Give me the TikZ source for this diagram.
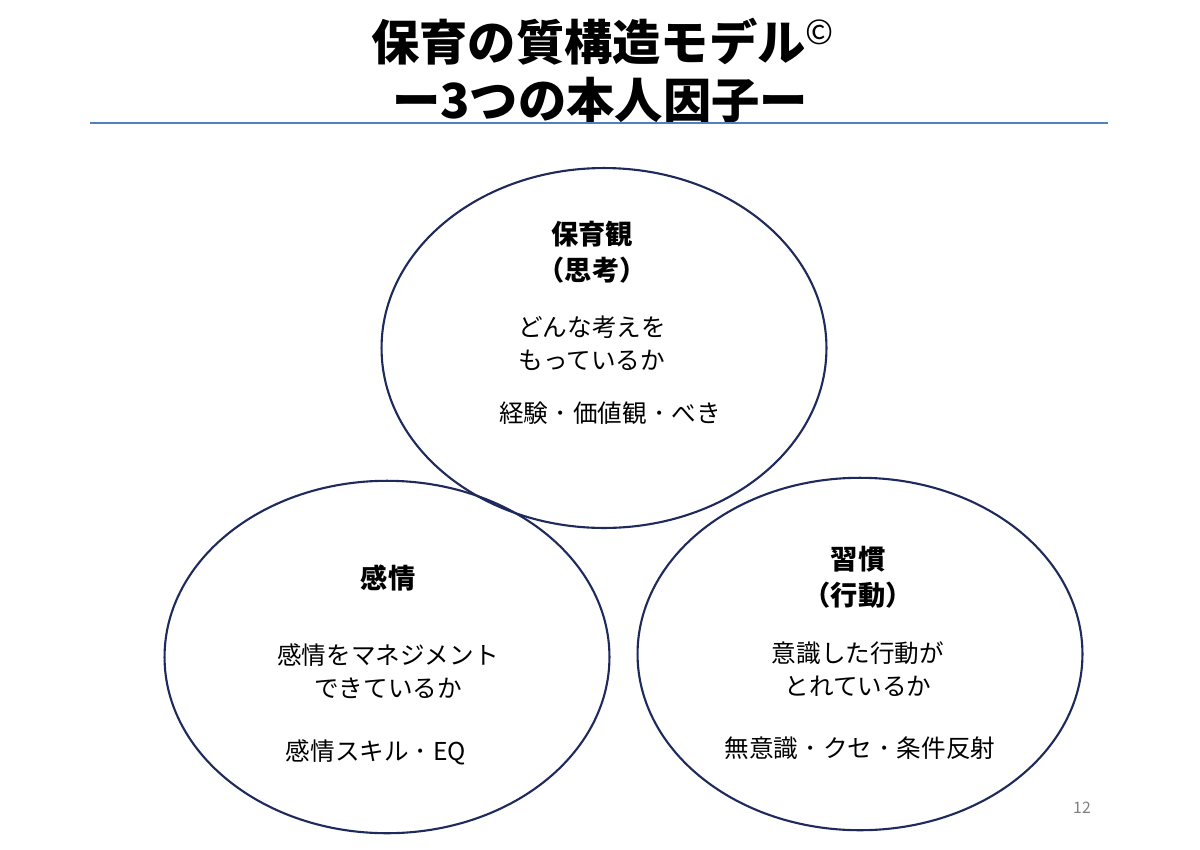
\documentclass[tikz,border=0pt]{standalone}
\usepackage{fontspec}
\usepackage{tikz}
\usetikzlibrary{positioning, shapes.geometric}
\setmainfont{Noto Sans CJK JP}
\definecolor{RuleBlue}{HTML}{4F81BD}
\definecolor{RingNavy}{HTML}{1F2A5C}
\definecolor{PageGray}{HTML}{7F7F7F}
\newcommand{\sepdot}{\hspace{0.25em}･\hspace{0.25em}}
\tikzset{
  ring/.style={draw=RingNavy, line width=1.2pt, ellipse, minimum width=8.9cm, minimum height=7.05cm},
  head/.style={font=\fontsize{15.5}{20.5}\selectfont\bfseries, align=center},
  body/.style={font=\fontsize{14}{18.8}\selectfont, align=center}
}

\begin{document}
\begin{tikzpicture}[x=0.02cm, y=-0.02cm]
                \useasboundingbox (0,0) rectangle (1200,849);
                
                % Title
                \node[font=\fontsize{27.5}{33}\selectfont\bfseries] (title) at (603,42) {保育の質構造モデル\textsuperscript{\normalfont ©}};
                \node[font=\fontsize{27.5}{33}\selectfont\bfseries] (subtitle) at (600,100) {ー3つの本人因子ー};
                \coordinate (ruleL) at (90,123);
                \coordinate (ruleR) at (1108,123);
                \draw[color=RuleBlue, line width=0.8pt] (ruleL) -- (ruleR);
                
                % Three factor rings
                \node[ring, minimum height=7.2cm] (topEll) at (604,348) {};
                \node[ring] (leftEll) at (387,657) {};
                \node[ring] (rightEll) at (860,654) {};
                
                % Thinking
                \node[head] (thinkHead) at (592,252) {保育観\\（思考）};
                \node[body] (thinkText) at (592,343) {どんな考えを\\もっているか};
                \node[body] (thinkNote) at (610,413) {経験\sepdot 価値観\sepdot べき};
                
                % Emotion
                \node[head] (feelHead) at (388,578) {感情};
                \node[body] (feelText) at (388,671) {感情をマネジメント\\できているか};
                \node[body] (feelNote) at (376,752) {感情スキル\sepdot EQ};
                
                % Habit
                \node[head] (habitHead) at (858,577) {習慣\\（行動）};
                \node[body] (habitText) at (858,669) {意識した行動が\\とれているか};
                \node[body] (habitNote) at (860,748) {無意識\sepdot クセ\sepdot 条件反射};
                
                % Page number
                \node[font=\fontsize{9}{11}\selectfont, color=PageGray] (pageNo) at (1082,808) {12};
            \end{tikzpicture}
\end{document}
